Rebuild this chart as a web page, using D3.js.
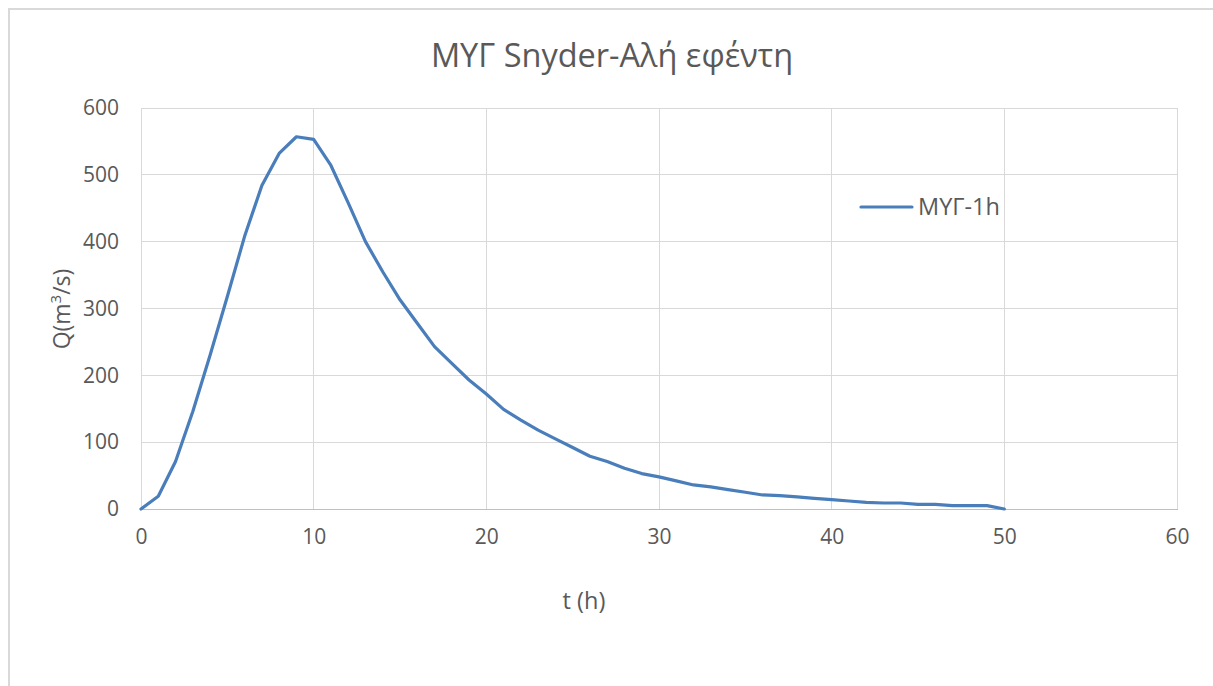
<!DOCTYPE html>
<html><head><meta charset="utf-8">
<script src="https://cdn.jsdelivr.net/npm/d3@7"></script>
<style>
html,body{margin:0;padding:0;background:#fff;}
text{font-family:"Open Sans",sans-serif;fill:#595959;}
</style></head>
<body><svg id="c" width="1213" height="686"></svg>
<script>
const title = "ΜΥΓ Snyder-Αλή εφέντη";
const seriesName = "ΜΥΓ-1h";
const xTitle = "t (h)";
const tHours = d3.range(0, 51);
const qValues = [0,19,71,146,230,318,408,484,532,557,553,514,458,400,355,313,278,243,218,193,
  172,149,133,118,105,92,79,71,61,53,48,42,36,33,29,25,21,20,18,16,14,12,10,9,9,7,7,5,5,5,0];
const xTicks = [0,10,20,30,40,50,60];
const yTicks = [0,100,200,300,400,500,600];

const svg = d3.select("#c");
// chart border
svg.append("path").attr("d","M9,686V9H1213").attr("fill","none").attr("stroke","#d9d9d9").attr("stroke-width",2);

const x = d3.scaleLinear().domain([0,60]).range([141,1177]);
const y = d3.scaleLinear().domain([0,600]).range([509,108]);

// grid
svg.append("g").selectAll("line").data(yTicks.slice(1)).join("line")
  .attr("x1",x(0)).attr("x2",x(60)).attr("y1",d=>y(d)).attr("y2",d=>y(d))
  .attr("stroke","#d9d9d9").attr("stroke-width",1).attr("shape-rendering","crispEdges");
svg.append("g").selectAll("line").data(xTicks.slice(1)).join("line")
  .attr("x1",d=>x(d)).attr("x2",d=>x(d)).attr("y1",y(0)).attr("y2",y(600))
  .attr("stroke","#d9d9d9").attr("stroke-width",1).attr("shape-rendering","crispEdges");

// axes
const xa = svg.append("g").attr("transform",`translate(0,${y(0)})`)
  .call(d3.axisBottom(x).tickValues(xTicks).tickSize(0).tickPadding(20));
xa.select(".domain").attr("stroke","#bfbfbf").attr("shape-rendering","crispEdges");
xa.selectAll("text").attr("font-size",21).attr("font-family","Open Sans").attr("fill","#595959");
const ya = svg.append("g").attr("transform",`translate(${x(0)},0)`)
  .call(d3.axisLeft(y).tickValues(yTicks).tickSize(0).tickPadding(22));
ya.select(".domain").attr("stroke","#d9d9d9").attr("shape-rendering","crispEdges");
ya.selectAll("text").attr("font-size",21).attr("font-family","Open Sans").attr("fill","#595959");

// line
svg.append("path").datum(tHours.map((t,i)=>[t,qValues[i]]))
  .attr("fill","none").attr("stroke","#4a7ebb").attr("stroke-width",3.2)
  .attr("stroke-linejoin","round").attr("stroke-linecap","round")
  .attr("d", d3.line().x(d=>x(d[0])).y(d=>y(d[1])));

// title
svg.append("text").attr("x",612).attr("y",67).attr("text-anchor","middle")
  .attr("font-size",32.5).text(title);
// x title
svg.append("text").attr("x",584).attr("y",609).attr("text-anchor","middle")
  .attr("font-size",23.5).text(xTitle);
// y title
const yt = svg.append("text").attr("transform","translate(70,309) rotate(-90)")
  .attr("text-anchor","middle").attr("font-size",23);
yt.append("tspan").text("Q(m");
yt.append("tspan").attr("font-size",15).attr("dy",-9).text("3");
yt.append("tspan").attr("dy",9).text("/s)");

// legend
svg.append("line").attr("x1",861).attr("x2",912).attr("y1",207).attr("y2",207)
  .attr("stroke","#4a7ebb").attr("stroke-width",3.2).attr("stroke-linecap","round");
svg.append("text").attr("x",918).attr("y",215).attr("font-size",23.5).text(seriesName);
</script></body></html>
